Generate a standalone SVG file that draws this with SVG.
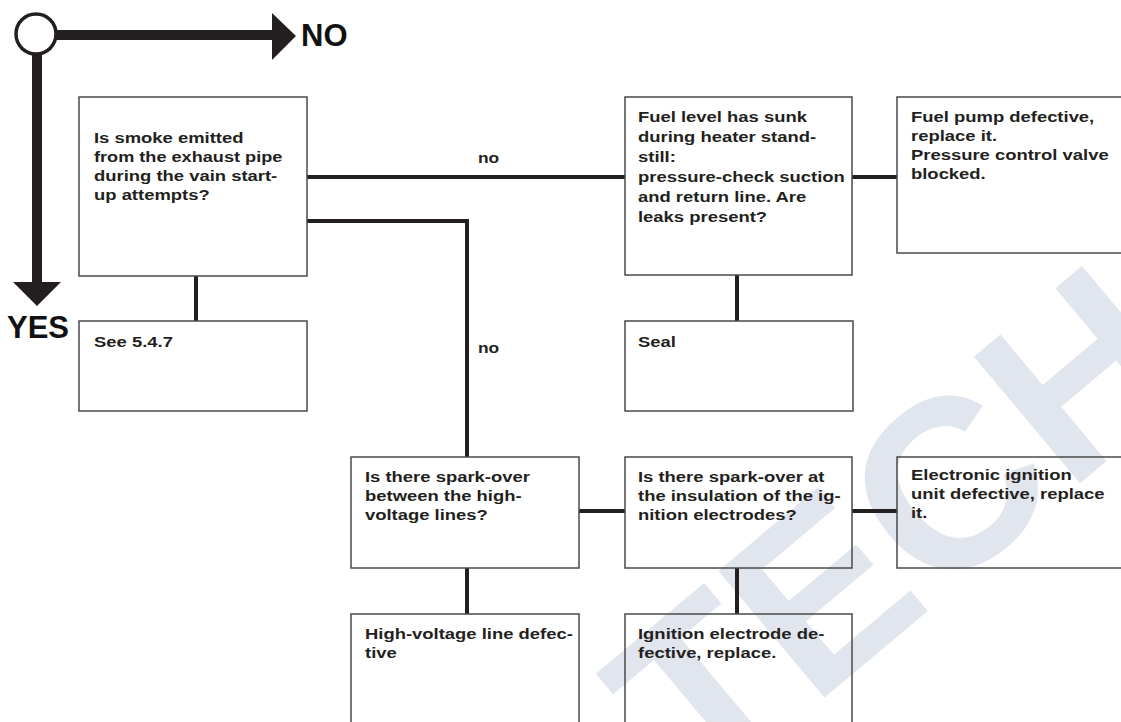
<svg xmlns="http://www.w3.org/2000/svg" width="1121" height="722" viewBox="0 0 1121 722">
<style>
.box{fill:none;stroke:#4a4a4a;stroke-width:1.5}
.t{font-family:"Liberation Sans",Arial,sans-serif;font-weight:bold;font-size:15.5px;fill:#231f20}
.big{font-family:"Liberation Sans",Arial,sans-serif;font-weight:bold;font-size:31px;fill:#111}
.c{fill:none;stroke:#231f20;stroke-width:4}
.leg{fill:none;stroke:#231f20;stroke-width:10}
.wm{font-family:"Liberation Sans",Arial,sans-serif;font-weight:bold;font-size:240px;fill:#e1e5ee}
</style>
<rect width="1121" height="722" fill="#fff"/>
<g id="watermark"><text class="wm" transform="translate(700,802) rotate(-40)">TECH</text></g>
<g id="legend">
<line class="leg" x1="57" y1="35" x2="276" y2="35"/>
<polygon points="272,13 296,36 272,60" fill="#231f20"/>
<line class="leg" x1="37" y1="55" x2="37" y2="284"/>
<polygon points="13,282 61,282 37,306" fill="#231f20"/>
<circle cx="36" cy="34" r="20" fill="#fff" stroke="#231f20" stroke-width="3.5"/>
<text class="big" x="301" y="46">NO</text>
<text class="big" x="7" y="338">YES</text>
</g>
<g id="connectors">
<line class="c" x1="307" y1="177" x2="625" y2="177"/>
<polyline class="c" points="307,221 467,221 467,457"/>
<line class="c" x1="196" y1="276" x2="196" y2="321"/>
<line class="c" x1="852" y1="177" x2="897" y2="177"/>
<line class="c" x1="737" y1="275" x2="737" y2="321"/>
<line class="c" x1="579" y1="511" x2="625" y2="511"/>
<line class="c" x1="852" y1="511" x2="897" y2="511"/>
<line class="c" x1="467" y1="568" x2="467" y2="614"/>
<line class="c" x1="737" y1="568" x2="737" y2="614"/>
<text class="t" transform="translate(478,163) scale(1.12,1)">no</text>
<text class="t" transform="translate(478,353) scale(1.12,1)">no</text>
</g>
<g id="smoke">
<rect class="box" x="79" y="97" width="228" height="179"/>
<text class="t" transform="translate(94,143) scale(1.19,1)">Is smoke emitted</text>
<text class="t" transform="translate(94,162) scale(1.17,1)">from the exhaust pipe</text>
<text class="t" transform="translate(94,181) scale(1.19,1)">during the vain start-</text>
<text class="t" transform="translate(94,200) scale(1.19,1)">up attempts?</text>
</g>
<g id="see547">
<rect class="box" x="79" y="321" width="228" height="90"/>
<text class="t" transform="translate(94,347) scale(1.19,1)">See 5.4.7</text>
</g>
<g id="fuellevel">
<rect class="box" x="625" y="97" width="227" height="178"/>
<text class="t" transform="translate(638,122) scale(1.19,1)">Fuel level has sunk</text>
<text class="t" transform="translate(638,142) scale(1.19,1)">during heater stand-</text>
<text class="t" transform="translate(638,162) scale(1.19,1)">still:</text>
<text class="t" transform="translate(638,182) scale(1.19,1)">pressure-check suction</text>
<text class="t" transform="translate(638,202) scale(1.19,1)">and return line. Are</text>
<text class="t" transform="translate(638,222) scale(1.19,1)">leaks present?</text>
</g>
<g id="fuelpump">
<rect class="box" x="897" y="97" width="240" height="156"/>
<text class="t" transform="translate(911,122) scale(1.19,1)">Fuel pump defective,</text>
<text class="t" transform="translate(911,141) scale(1.19,1)">replace it.</text>
<text class="t" transform="translate(911,160) scale(1.19,1)">Pressure control valve</text>
<text class="t" transform="translate(911,179) scale(1.19,1)">blocked.</text>
</g>
<g id="seal">
<rect class="box" x="625" y="321" width="228" height="90"/>
<text class="t" transform="translate(638,347) scale(1.19,1)">Seal</text>
</g>
<g id="spark1">
<rect class="box" x="351" y="457" width="228" height="111"/>
<text class="t" transform="translate(365,482) scale(1.19,1)">Is there spark-over</text>
<text class="t" transform="translate(365,501) scale(1.19,1)">between the high-</text>
<text class="t" transform="translate(365,520) scale(1.19,1)">voltage lines?</text>
</g>
<g id="spark2">
<rect class="box" x="625" y="457" width="227" height="111"/>
<text class="t" transform="translate(638,482) scale(1.19,1)">Is there spark-over at</text>
<text class="t" transform="translate(638,501) scale(1.19,1)">the insulation of the ig-</text>
<text class="t" transform="translate(638,520) scale(1.19,1)">nition electrodes?</text>
</g>
<g id="ignitionunit">
<rect class="box" x="897" y="457" width="240" height="111"/>
<text class="t" transform="translate(911,480) scale(1.19,1)">Electronic ignition</text>
<text class="t" transform="translate(911,499) scale(1.19,1)">unit defective, replace</text>
<text class="t" transform="translate(911,518) scale(1.19,1)">it.</text>
</g>
<g id="hvline">
<rect class="box" x="351" y="614" width="228" height="130"/>
<text class="t" transform="translate(365,639) scale(1.19,1)">High-voltage line defec-</text>
<text class="t" transform="translate(365,658) scale(1.19,1)">tive</text>
</g>
<g id="electrode">
<rect class="box" x="625" y="614" width="227" height="130"/>
<text class="t" transform="translate(638,639) scale(1.19,1)">Ignition electrode de-</text>
<text class="t" transform="translate(638,658) scale(1.19,1)">fective, replace.</text>
</g>
</svg>
